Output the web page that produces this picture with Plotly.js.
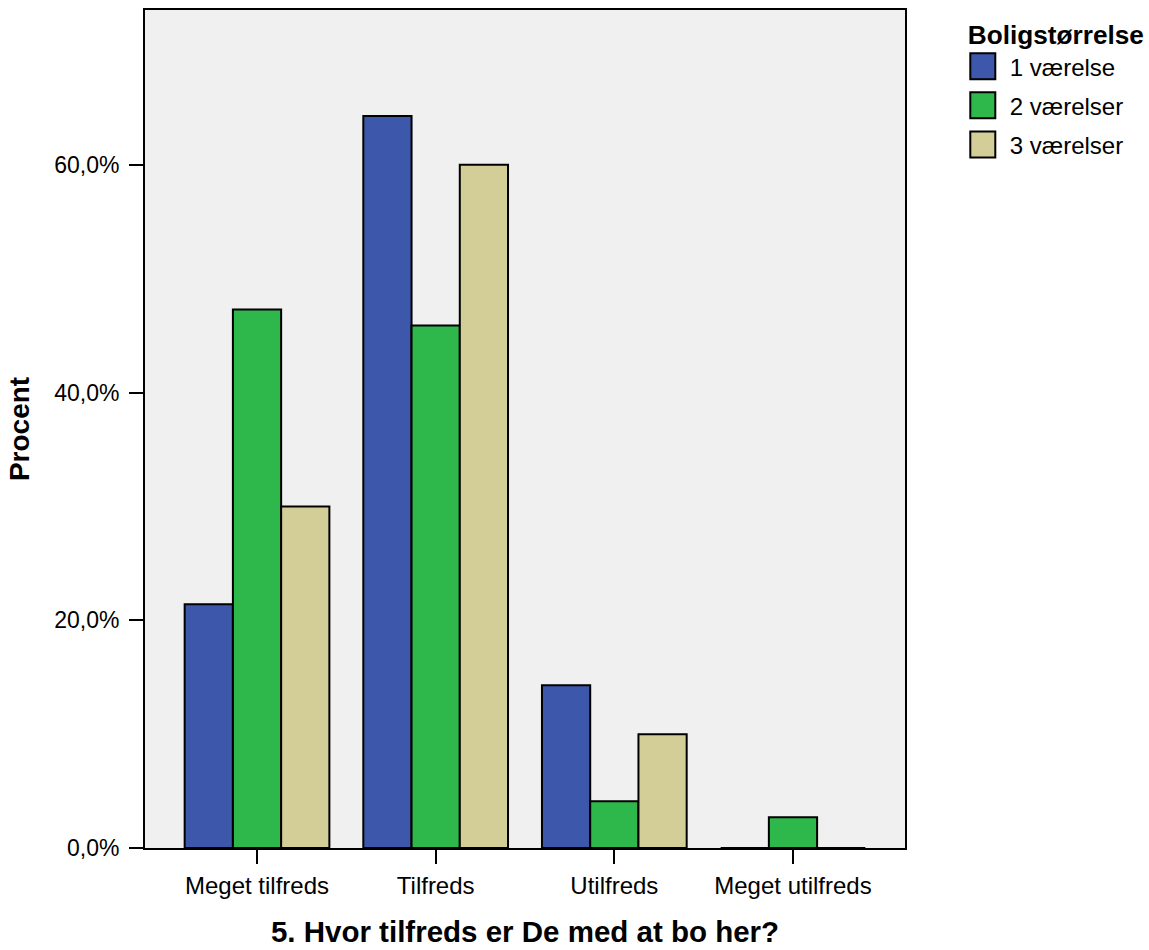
<!DOCTYPE html>
<html>
<head>
<meta charset="utf-8">
<script src="https://cdn.plot.ly/plotly-3.0.1.min.js"></script>
<style>
html, body { margin: 0; padding: 0; background: #ffffff; }
#chart { width: 1149px; height: 950px; }
</style>
</head>
<body>
<div id="chart"></div>
<script>
const categories = ["Meget tilfreds", "Tilfreds", "Utilfreds", "Meget utilfreds"];
const seriesNames = ["1 værelse", "2 værelser", "3 værelser"];
const values1 = [21.4, 64.3, 14.3, 0];
const values2 = [47.3, 45.9, 4.1, 2.7];
const values3 = [30.0, 60.0, 10.0, 0];
const colors = ["#3d58ab", "#2eb84b", "#d3ce97"];
const yTickVals = [0, 20, 40, 60];
const yTickText = ["0,0%", "20,0%", "40,0%", "60,0%"];

const FONT = "Liberation Sans, Arial, Helvetica, sans-serif";
const allValues = [values1, values2, values3];
const traces = allValues.map((vals, i) => ({
  type: "bar",
  name: seriesNames[i],
  legendgroup: "g" + i,
  x: categories,
  y: vals,
  marker: { color: colors[i], line: { color: "#000000", width: 2 } },
  hoverinfo: "x+y+name"
}));

const layout = {
  width: 1149,
  height: 950,
  margin: { l: 145, r: 244, t: 10, b: 102, autoexpand: false },
  paper_bgcolor: "#ffffff",
  plot_bgcolor: "#f0f0f0",
  font: { family: FONT, size: 23, color: "#000000" },
  barmode: "group",
  bargap: 0.19,
  bargroupgap: 0,
  xaxis: {
    type: "category",
    range: [-0.627, 3.627],
    showline: true, linecolor: "#000000", linewidth: 2, mirror: true,
    ticks: "outside", ticklen: 14, tickwidth: 2, tickcolor: "#000000",
    ticklabelstandoff: 1,
    showgrid: false, zeroline: false,
    tickfont: { size: 24, family: FONT },
    title: { text: "<b>5. Hvor tilfreds er De med at bo her?</b>", font: { size: 29.5, family: FONT }, standoff: 24 }
  },
  yaxis: {
    range: [0, 73.6],
    tickmode: "array",
    tickvals: yTickVals,
    ticktext: yTickText,
    showline: true, linecolor: "#000000", linewidth: 2, mirror: true,
    ticks: "outside", ticklen: 14, tickwidth: 2, tickcolor: "#000000",
    ticklabelstandoff: 5,
    showgrid: false, zeroline: false,
    tickfont: { size: 23, family: FONT },
    title: { text: "<b>Procent</b>", font: { size: 28, family: FONT }, standoff: 16 }
  },
  showlegend: true,
  legend: {
    x: 1.08, xanchor: "left",
    y: 1.0, yanchor: "top",
    title: { text: "<b>Boligstørrelse</b>", font: { size: 26.2, family: FONT } },
    font: { size: 24, family: FONT },
    tracegroupgap: 5,
    itemwidth: 34,
    bgcolor: "rgba(0,0,0,0)"
  }
};

Plotly.newPlot("chart", traces, layout, { displayModeBar: false, staticPlot: true }).then(() => {
  document.querySelectorAll(".legendpoints path").forEach(p => {
    p.setAttribute("d", "M7.5,13H-17.5V-13H7.5Z");
  });
});
</script>
</body>
</html>
